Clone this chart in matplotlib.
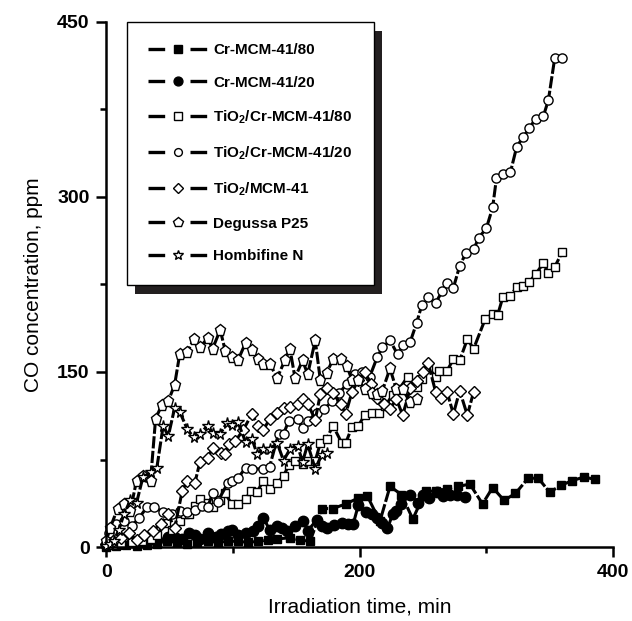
import matplotlib
matplotlib.use('Agg')
import matplotlib.pyplot as plt
from matplotlib.lines import Line2D
from matplotlib.patches import Rectangle
from matplotlib.legend_handler import HandlerTuple

plt.rcParams['font.family'] = ['Liberation Sans', 'DejaVu Sans']
plt.rcParams['mathtext.fontset'] = 'custom'
plt.rcParams['mathtext.rm'] = 'Liberation Sans:bold'
plt.rcParams['mathtext.bf'] = 'Liberation Sans:bold'
plt.rcParams['mathtext.default'] = 'bf'

# Cr-MCM-41/80 (filled squares)
t_cr80 = [0, 8, 16, 24, 32, 40, 48, 56, 64, 72, 80, 88, 96, 104, 112, 120, 128, 135, 145, 153,
          161, 170, 179, 189, 199, 206, 216, 224, 233, 242, 252, 260, 269, 278, 287, 297, 305, 314, 323, 333,
          341, 350, 359, 368, 377, 386]
co_cr80 = [0, 1, 2, 1, 2, 3, 5, 4, 3, 4, 5, 4, 5, 5, 4, 5, 6, 7, 8, 6,
           5, 33, 33, 37, 42, 44, 22, 52, 45, 24, 48, 48, 50, 52, 54, 37, 51, 40, 46, 59,
           59, 47, 53, 57, 60, 58]

# Cr-MCM-41/20 (filled circles)
t_cr20 = [0, 10, 20, 30, 40, 49, 55, 60, 65, 70, 74, 80, 87, 91, 96, 99, 104, 110, 116, 120,
          124, 129, 135, 139, 143, 149, 155, 159, 166, 170, 174, 180, 186, 191, 195, 199, 205, 210, 214, 218,
          222, 226, 229, 233, 240, 246, 250, 255, 261, 266, 271, 277, 283]
co_cr20 = [2, 3, 4, 5, 6, 9, 8, 7, 12, 10, 7, 12, 9, 11, 14, 15, 10, 12, 14, 18,
           25, 15, 18, 16, 14, 18, 22, 14, 23, 18, 16, 19, 21, 20, 20, 36, 30, 28, 25, 21,
           16, 28, 31, 37, 45, 38, 45, 42, 47, 44, 45, 45, 43]

# TiO2/Cr-MCM-41/80 (open squares)
t_ti80 = [5, 12, 20, 28, 35, 40, 47, 52, 58, 62, 65, 70, 74, 80, 84, 90, 94, 99, 104, 110,
          114, 119, 124, 129, 135, 140, 144, 149, 155, 159, 165, 169, 174, 179, 186, 189, 194, 199, 204, 210,
          215, 220, 226, 231, 238, 245, 249, 254, 260, 263, 269, 274, 279, 285, 290, 299, 305, 309, 313, 319,
          324, 329, 334, 339, 345, 349, 354, 360]
co_ti80 = [2, 3, 4, 5, 7, 10, 21, 15, 22, 28, 28, 35, 41, 38, 34, 40, 46, 37, 37, 41,
           48, 47, 57, 50, 55, 61, 70, 74, 71, 74, 74, 89, 93, 104, 89, 89, 103, 104, 113, 115,
           115, 121, 130, 135, 146, 137, 144, 154, 146, 151, 151, 161, 160, 178, 170, 195, 200, 199, 214, 215,
           223, 224, 227, 234, 243, 235, 240, 253]

# TiO2/Cr-MCM-41/20 (open circles)
t_ti20 = [2, 8, 14, 20, 26, 32, 38, 45, 52, 58, 64, 70, 76, 80, 84, 88, 96, 99, 104, 110,
          115, 124, 129, 136, 140, 144, 151, 155, 159, 166, 172, 178, 184, 190, 196, 202, 208, 214, 218, 224,
          230, 234, 240, 245, 249, 254, 260, 265, 269, 274, 279, 284, 290, 294, 300, 305, 308, 313, 319, 324,
          329, 334, 339, 345, 349, 354, 360]
co_ti20 = [12, 20, 22, 18, 25, 34, 34, 30, 28, 31, 30, 32, 35, 34, 46, 39, 55, 57, 59, 68,
           67, 67, 69, 97, 97, 108, 110, 102, 108, 115, 118, 125, 132, 140, 148, 150, 146, 163, 171, 177,
           165, 173, 176, 192, 207, 214, 209, 219, 226, 222, 241, 252, 255, 265, 273, 291, 316, 320, 321, 343,
           351, 359, 367, 369, 383, 419, 419]

# TiO2/MCM-41 (open diamonds)
t_timcm = [0, 5, 12, 18, 24, 30, 37, 43, 49, 54, 60, 64, 70, 74, 80, 84, 91, 94, 97, 102,
           108, 115, 120, 124, 129, 135, 140, 145, 151, 155, 159, 165, 169, 174, 179, 185, 189, 194, 199, 204,
           209, 214, 219, 224, 229, 234, 240, 245, 250, 254, 260, 264, 269, 274, 279, 285, 290]
co_timcm = [3, 5, 8, 12, 6, 10, 14, 20, 28, 16, 48, 57, 55, 73, 76, 85, 81, 80, 88, 91,
            100, 114, 104, 100, 110, 115, 119, 120, 123, 127, 123, 109, 131, 136, 132, 123, 114, 133, 143, 150,
            140, 128, 123, 118, 127, 113, 136, 142, 150, 158, 133, 128, 133, 114, 134, 113, 133]

# Degussa P25 (open pentagons)
t_p25 = [0, 3, 9, 14, 19, 24, 29, 35, 39, 44, 49, 54, 58, 64, 69, 74, 80, 84, 90, 94,
         99, 104, 110, 115, 120, 124, 129, 135, 141, 145, 149, 155, 159, 165, 169, 174, 179, 185, 190, 194,
         199, 204, 210, 214, 218, 224, 229, 234, 240, 245]
co_p25 = [5, 16, 33, 37, 31, 57, 61, 57, 110, 122, 125, 139, 165, 167, 178, 171, 179, 170, 186, 168,
          163, 160, 175, 169, 161, 157, 157, 145, 160, 170, 145, 160, 148, 177, 143, 149, 161, 161, 155, 143,
          143, 135, 132, 131, 134, 153, 135, 135, 124, 127]

# Hombifine N (open stars)
t_hom = [0, 3, 6, 10, 14, 19, 24, 29, 35, 40, 45, 49, 54, 58, 64, 69, 74, 80, 84, 90,
         95, 99, 104, 110, 115, 119, 124, 129, 135, 140, 145, 151, 155, 159, 165, 170, 174]
co_hom = [1, 3, 5, 15, 28, 40, 38, 60, 64, 68, 104, 95, 119, 116, 101, 94, 97, 104, 98, 97,
          106, 105, 107, 90, 93, 80, 84, 84, 89, 74, 84, 87, 73, 88, 67, 79, 81]

labels = ['Cr-MCM-41/80', 'Cr-MCM-41/20', 'TiO$_2$/Cr-MCM-41/80', 'TiO$_2$/Cr-MCM-41/20',
          'TiO$_2$/MCM-41', 'Degussa P25', 'Hombifine N']

series = [
    (t_cr80, co_cr80, 's', 'black', 6.0),
    (t_cr20, co_cr20, 'o', 'black', 7.5),
    (t_ti80, co_ti80, 's', 'white', 6.0),
    (t_ti20, co_ti20, 'o', 'white', 6.6),
    (t_timcm, co_timcm, 'D', 'white', 5.8),
    (t_p25, co_p25, 'p', 'white', 8.2),
    (t_hom, co_hom, '*', 'white', 8.5),
]

fig = plt.figure(figsize=(6.32, 6.21), dpi=100)
ax = fig.add_axes([0.168, 0.119, 0.802, 0.846])

draw_order = [4, 2, 3, 6, 5, 0, 1]
for i in draw_order:
    t, c, m, fc, ms = series[i]
    ax.plot(t, c, color='black', lw=2.2, linestyle=(0, (4, 0.8)),
            marker=m, markersize=ms,
            markerfacecolor=fc, markeredgecolor='black', markeredgewidth=1.0,
            zorder=2 + i * 0.1, clip_on=False)

ax.set_xlim(0, 400)
ax.set_ylim(0, 450)
ax.set_xticks([0, 200, 400])
ax.set_xticks([100, 300], minor=True)
ax.set_yticks([0, 150, 300, 450])
ax.set_yticks([75, 225, 375], minor=True)
for s in ['top', 'right']:
    ax.spines[s].set_visible(False)
for s in ['left', 'bottom']:
    ax.spines[s].set_linewidth(1.8)
ax.tick_params(which='major', length=7, width=1.8, labelsize=14, pad=5)
ax.tick_params(which='minor', length=4, width=1.8)
for lab in ax.get_xticklabels() + ax.get_yticklabels():
    lab.set_fontweight('bold')

ax.set_xlabel('Irradiation time, min', fontsize=15, labelpad=12)
ax.set_ylabel('CO concentration, ppm', fontsize=15, labelpad=10)

# legend: "— marker —" handles (line with a gap where the marker sits)
handles = []
for t, c, m, fc, ms in series:
    ln = Line2D([0], [0], color='black', lw=2.4, linestyle=(0, (5, 7.6, 5, 40)))
    mk = Line2D([0], [0], linestyle='none', marker=m, markersize=ms * 0.85,
                markerfacecolor=fc, markeredgecolor='black', markeredgewidth=1.0)
    handles.append((ln, mk))

leg = ax.legend(handles, labels, loc='upper left', bbox_to_anchor=(0.041, 1.0),
                borderaxespad=0, prop={'weight': 'bold', 'size': 11},
                handler_map={tuple: HandlerTuple(ndivide=1, pad=0)},
                handlelength=3.9, handletextpad=0.35, labelspacing=1.22,
                borderpad=1.4, fancybox=False, frameon=True, framealpha=1)
leg.get_frame().set_edgecolor('black')
leg.get_frame().set_linewidth(1.0)
leg.get_frame().set_facecolor('white')
leg.set_zorder(10)

fig.canvas.draw()
bb = leg.get_window_extent().transformed(ax.transAxes.inverted())
aw = ax.get_window_extent().width
ah = ax.get_window_extent().height
shadow = Rectangle((bb.x0 + 8 / aw, bb.y0 - 9 / ah), bb.width, bb.height,
                   transform=ax.transAxes, facecolor='#231f20', edgecolor='none',
                   zorder=9, clip_on=False)
ax.add_patch(shadow)

fig.savefig('out.png', dpi=100)
